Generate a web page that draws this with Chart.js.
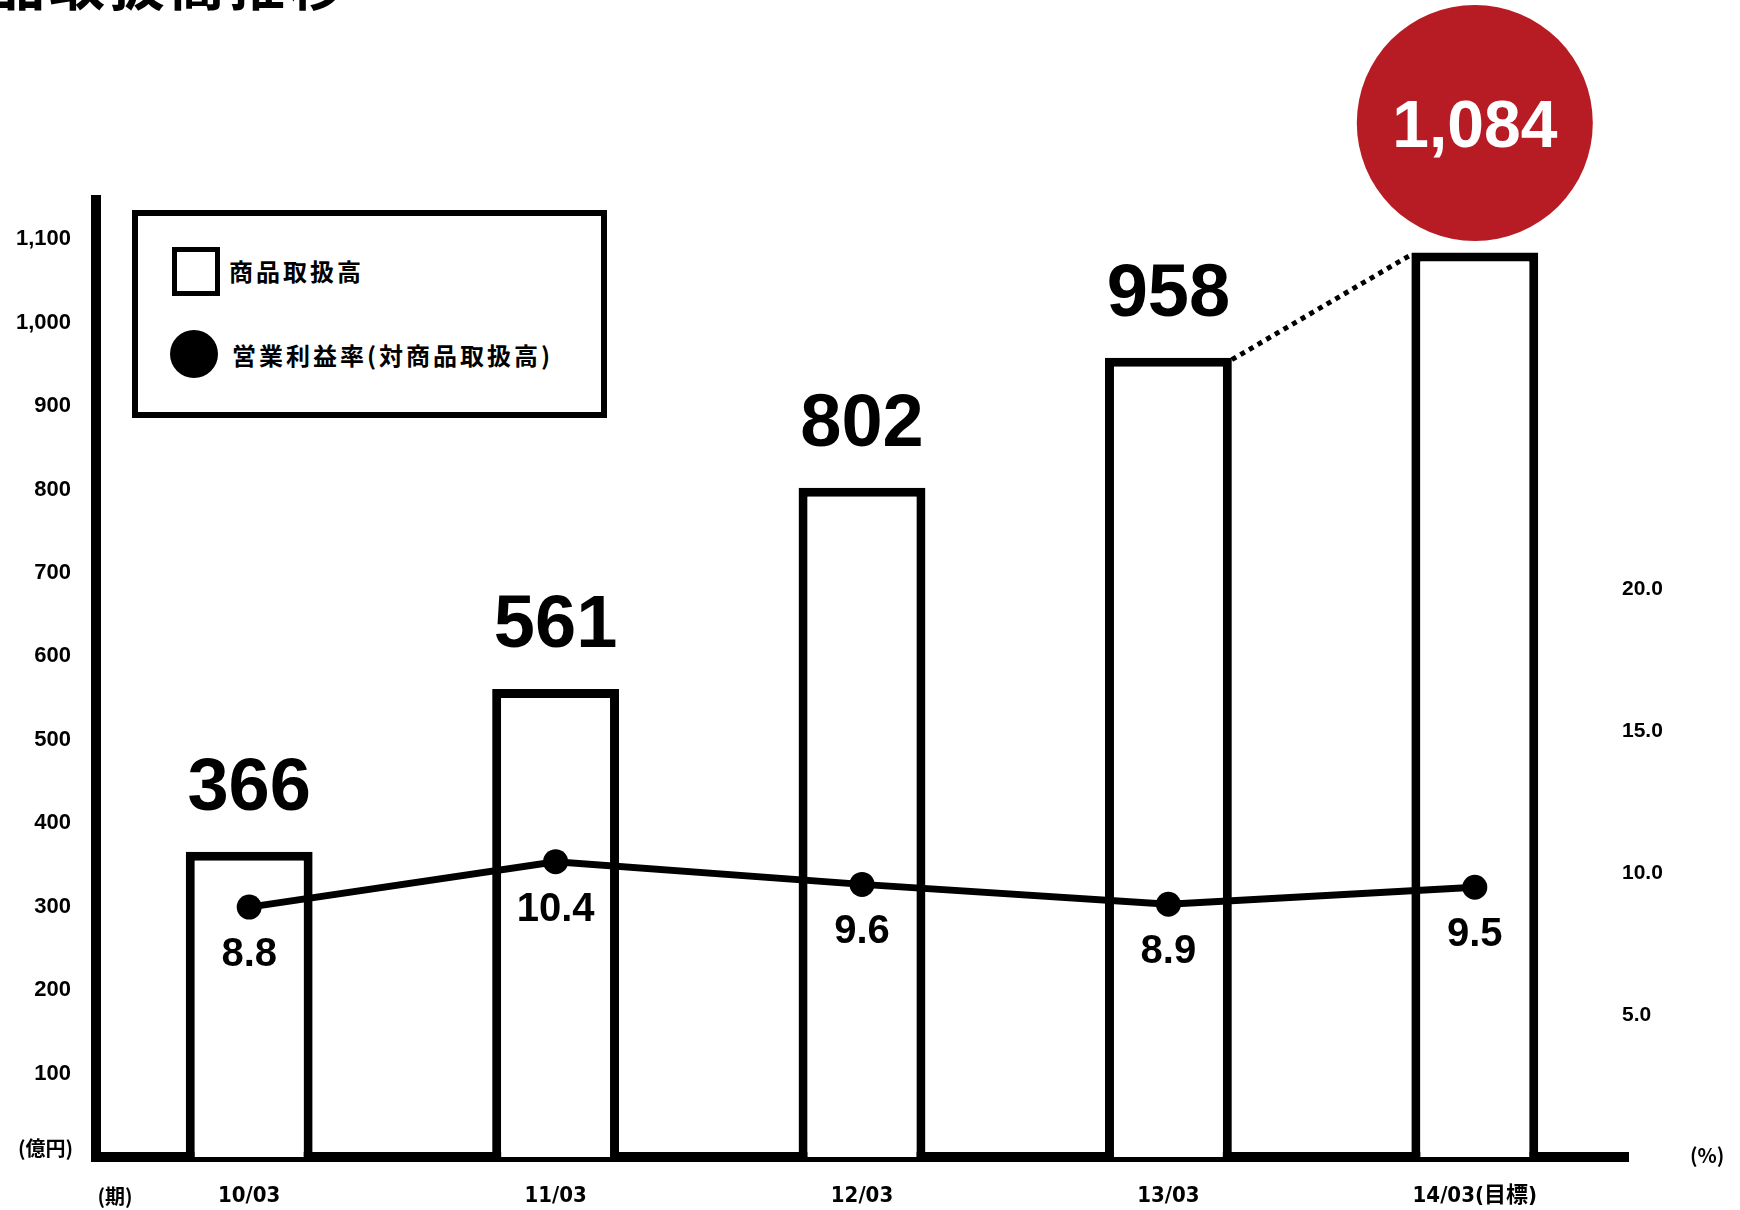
<!DOCTYPE html>
<html lang="ja">
<head>
<meta charset="utf-8">
<title>商品取扱高推移</title>
<script src="https://cdn.jsdelivr.net/npm/chart.js@4.4.1/dist/chart.umd.min.js"></script>
<style>
    html, body { margin: 0; padding: 0; background: #fff; }
    #wrap { position: relative; width: 1740px; height: 1210px; overflow: hidden; }
    #chart { position: absolute; left: 0; top: 0; }
    .legend-box {
        position: absolute; left: 132px; top: 210px; width: 475px; height: 208px;
        box-sizing: border-box; border: 6px solid #000; background: #fff;
    }
    .legend-square {
        position: absolute; left: 172px; top: 247px; width: 48px; height: 49px;
        box-sizing: border-box; border: 5px solid #000; background: #fff;
    }
    .legend-dot {
        position: absolute; left: 170px; top: 330px; width: 48px; height: 48px;
        border-radius: 50%; background: #000;
    }
    .legend-text {
        position: absolute; height: 30px; line-height: 30px; white-space: nowrap;
        font: bold 24px "Noto Sans CJK JP", sans-serif; letter-spacing: 3px; color: #000;
    }
</style>
</head>
<body>
<div id="wrap">
    <canvas id="chart" width="1740" height="1210"></canvas>
    <div class="legend-box"></div>
    <div class="legend-square"></div>
    <div class="legend-text" style="left:229px; top:253px;">商品取扱高</div>
    <div class="legend-dot"></div>
    <div class="legend-text" style="left:232px; top:337px;">営業利益率(対商品取扱高)</div>
</div>
<script>
// 期別データ
const periods = ['10/03', '11/03', '12/03', '13/03', '14/03(目標)'];
const sales = [366, 561, 802, 958, 1084];          // 商品取扱高（億円）
const margin = [8.8, 10.4, 9.6, 8.9, 9.5];         // 営業利益率（%）
const salesTicks = [100, 200, 300, 400, 500, 600, 700, 800, 900, 1000, 1100];
const marginTicks = [5, 10, 15, 20];
const targetIndex = 4;                              // 目標値（赤丸で表示）

const title = '商品取扱高推移';
const numFont = '"Liberation Sans", Arial, sans-serif';
const cjkFont = '"Noto Sans CJK JP", sans-serif';

// 数値ラベル・目標の赤丸・単位など
const annotations = {
    id: 'annotations',
    afterDatasetsDraw(chart) {
        const ctx = chart.ctx;
        const bars = chart.getDatasetMeta(0).data;
        const points = chart.getDatasetMeta(1).data;
        ctx.save();

        // 13/03 → 14/03 の点線
        const prev = bars[targetIndex - 1];
        const last = bars[targetIndex];
        ctx.strokeStyle = '#000';
        ctx.lineWidth = 5;
        ctx.setLineDash([5, 5]);
        ctx.beginPath();
        ctx.moveTo(prev.x + prev.width / 2, prev.y + 2);
        ctx.lineTo(last.x - last.width / 2, last.y + 2);
        ctx.stroke();
        ctx.setLineDash([]);

        // 棒の上の数値
        ctx.fillStyle = '#000';
        ctx.textAlign = 'center';
        ctx.textBaseline = 'alphabetic';
        ctx.font = 'bold 74px ' + numFont;
        bars.forEach((bar, i) => {
            if (i === targetIndex) return;
            ctx.fillText(sales[i].toLocaleString('en-US'), bar.x, bar.y - 42);
        });

        // 目標値
        ctx.fillStyle = '#B71C24';
        ctx.beginPath();
        ctx.arc(last.x, 123, 118, 0, Math.PI * 2);
        ctx.fill();
        ctx.fillStyle = '#fff';
        ctx.font = 'bold 66px ' + numFont;
        ctx.fillText(sales[targetIndex].toLocaleString('en-US'), last.x, 147);

        // 営業利益率の数値
        ctx.fillStyle = '#000';
        ctx.textBaseline = 'middle';
        ctx.font = 'bold 40px ' + numFont;
        points.forEach((pt, i) => {
            ctx.fillText(margin[i].toFixed(1), pt.x, pt.y + 48);
        });

        ctx.restore();
    },
    afterDraw(chart) {
        const ctx = chart.ctx;
        const area = chart.chartArea;
        const y1 = chart.scales.y1;
        ctx.save();
        ctx.fillStyle = '#000';

        // タイトル（上端で切れている）
        ctx.font = 'bold 56px ' + cjkFont;
        ctx.letterSpacing = '4px';
        ctx.textAlign = 'right';
        ctx.textBaseline = 'alphabetic';
        ctx.fillText(title, 349, 5);
        ctx.letterSpacing = '0px';

        // 右軸の目盛（グラフ枠の内側に左揃え）
        ctx.font = 'bold 21px ' + numFont;
        ctx.textAlign = 'left';
        ctx.textBaseline = 'middle';
        marginTicks.forEach(v => {
            ctx.fillText(v.toFixed(1), 1622, y1.getPixelForValue(v));
        });

        // 単位
        ctx.font = 'bold 20px ' + cjkFont;
        ctx.textAlign = 'right';
        ctx.fillText('(億円)', 73, area.bottom - 9);
        ctx.textAlign = 'center';
        ctx.fillText('(期)', 115, 1196);
        ctx.textAlign = 'left';
        ctx.fillText('(%)', 1690, area.bottom - 2);
        ctx.restore();
    }
};

new Chart(document.getElementById('chart'), {
    type: 'bar',
    data: {
        labels: periods,
        datasets: [{
            type: 'bar',
            label: '商品取扱高',
            data: sales,
            yAxisID: 'y',
            backgroundColor: '#fff',
            borderColor: '#000',
            borderWidth: 9,
            barPercentage: 0.414,
            categoryPercentage: 1,
            order: 1
        }, {
            type: 'line',
            label: '営業利益率(対商品取扱高)',
            data: margin,
            yAxisID: 'y1',
            borderColor: '#000',
            borderWidth: 7,
            pointRadius: 12.5,
            pointBackgroundColor: '#000',
            pointBorderWidth: 0,
            tension: 0,
            order: 0
        }]
    },
    options: {
        responsive: false,
        animation: false,
        devicePixelRatio: 1,
        layout: { padding: { top: 200, left: 0, right: 0, bottom: 0 } },
        plugins: {
            legend: { display: false },
            tooltip: { enabled: false }
        },
        scales: {
            x: {
                offset: true,
                grid: { display: false, drawTicks: false },
                border: { color: '#000', width: 10 },
                ticks: {
                    color: '#000',
                    padding: 26,
                    maxRotation: 0,
                    autoSkip: false,
                    font: {
                        family: '"Liberation Sans Narrow", "DejaVu Sans Condensed", "Liberation Sans", "Noto Sans CJK JP", sans-serif',
                        size: 22,
                        weight: 'bold'
                    }
                },
                afterFit: s => { s.height = 53; }
            },
            y: {
                position: 'left',
                min: 0,
                max: 1147,
                grid: { display: false, drawTicks: false },
                border: { color: '#000', width: 10 },
                ticks: {
                    color: '#000',
                    padding: 25,
                    font: { family: numFont, size: 22, weight: 'bold' },
                    callback: v => v.toLocaleString('en-US')
                },
                afterBuildTicks: s => { s.ticks = salesTicks.map(v => ({ value: v })); },
                afterFit: s => { s.width = 96; }
            },
            y1: {
                position: 'right',
                min: 0,
                max: 33.7,
                grid: { display: false, drawTicks: false },
                border: { display: false },
                ticks: { display: false },
                afterBuildTicks: s => { s.ticks = marginTicks.map(v => ({ value: v })); },
                afterFit: s => { s.width = 112; }
            }
        }
    },
    plugins: [annotations]
});
</script>
</body>
</html>
